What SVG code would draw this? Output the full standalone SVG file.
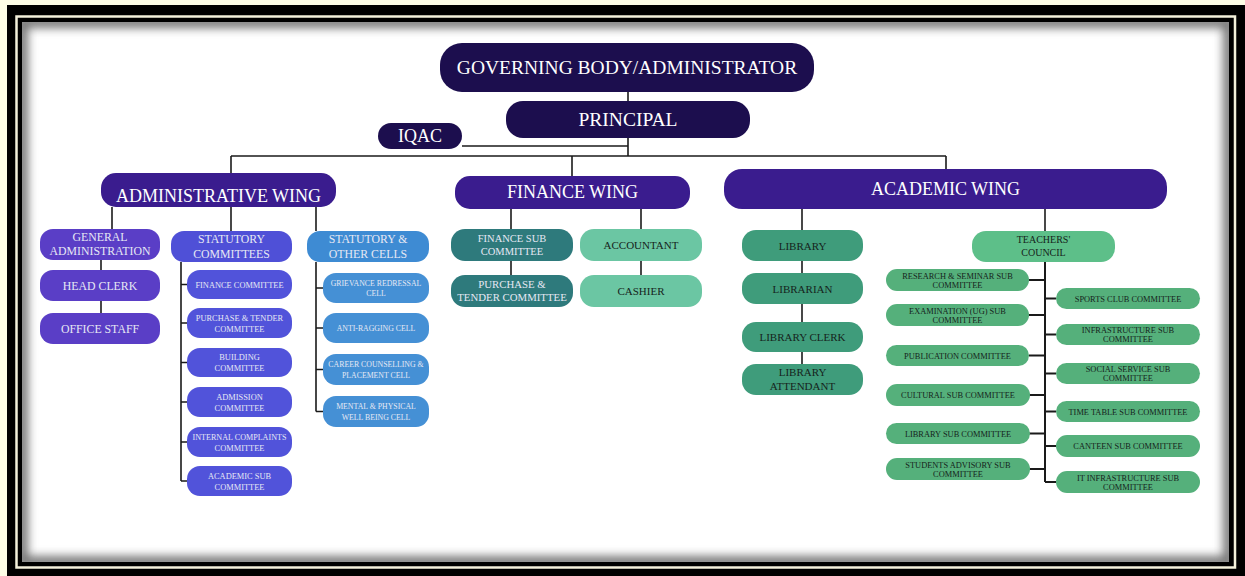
<svg xmlns="http://www.w3.org/2000/svg" width="1245" height="576" viewBox="0 0 1245 576">
<style>
text{font-family:"Liberation Serif","Times New Roman",serif;text-anchor:middle}
.w{fill:#ffffff}
.lt{fill:#e6e8f4}
.dk{fill:#16241b}
.navy{fill:#1c0e4e}
.wing{fill:#3a1c8e}
.ga{fill:#5a3ec6}
.sc{fill:#4f50d7}
.sci{fill:#5153da}
.oc{fill:#3e8bd3}
.oci{fill:#4590d5}
.fs{fill:#2e7a7c}
.ac{fill:#6bc6a3}
.lib{fill:#3f9c7b}
.tc{fill:#5dbf89}
.sub{fill:#55b07b}
.f18{font-size:18px}
.f12{font-size:11.8px}
.f11{font-size:11px}
.f105{font-size:10.5px}
.f10{font-size:10px}
.f85{font-size:8.4px}
.f8{font-size:7.8px}
.conn line,.conn path{stroke:#1a1a1a;stroke-width:1.6;fill:none}
.conn .thick{stroke-width:2}
</style>
<defs>
<filter id="blur" x="-5%" y="-5%" width="110%" height="110%"><feGaussianBlur stdDeviation="5"/></filter>
<clipPath id="inner"><rect x="22" y="22" width="1207" height="540"/></clipPath>
</defs>
<!-- frame -->
<rect width="1245" height="576" fill="#fdfde6"/>
<rect x="7" y="5" width="1238" height="571" fill="#000"/>
<rect x="16.5" y="16.5" width="1218.5" height="551" fill="none" stroke="#f4f1dc" stroke-width="2.5"/>
<rect x="22" y="22" width="1207" height="540" fill="#ffffff"/>
<g clip-path="url(#inner)">
<rect x="22" y="22" width="1207" height="540" fill="none" stroke="#777777" stroke-width="12" filter="url(#blur)"/>
</g>

<g class="conn" id="connectors">
<line x1="628" y1="92" x2="628" y2="101"/>
<line x1="628" y1="138" x2="628" y2="156"/>
<line x1="462" y1="146" x2="628" y2="146"/>
<line x1="231" y1="156" x2="946" y2="156"/>
<line x1="231" y1="156" x2="231" y2="173"/>
<line x1="572" y1="156" x2="572" y2="176"/>
<line x1="946" y1="156" x2="946" y2="169"/>
<!-- admin -->
<line x1="112" y1="207" x2="112" y2="229"/>
<line x1="231" y1="207" x2="231" y2="231"/>
<line x1="316" y1="207" x2="316" y2="231"/>
<line x1="101" y1="260" x2="101" y2="270"/>
<line x1="101" y1="301" x2="101" y2="313"/>
<path d="M181 262V481M181 284.5H187M181 323H187M181 362.5H187M181 402H187M181 442H187M181 481H187"/>
<path d="M316 262V411.5M316 288H323M316 328H323M316 369.5H323M316 411.5H323"/>
<!-- finance -->
<line x1="511" y1="209" x2="511" y2="229"/>
<line x1="641" y1="209" x2="641" y2="229"/>
<line x1="511" y1="261" x2="511" y2="275"/>
<line x1="641" y1="261" x2="641" y2="275"/>
<!-- academic -->
<line x1="802" y1="209" x2="802" y2="230"/>
<line x1="802" y1="261" x2="802" y2="273"/>
<line x1="802" y1="304" x2="802" y2="322"/>
<line x1="802" y1="352" x2="802" y2="364"/>
<line x1="1045" y1="209" x2="1045" y2="231"/>
<path class="thick" d="M1045 262V482M1029 280H1045M1029 315H1045M1029 355.5H1045M1029 395H1045M1029 433.5H1045M1029 469H1045M1045 298.5H1056M1045 334.5H1056M1045 373.5H1056M1045 411.5H1056M1045 446H1056M1045 482H1056"/>
</g>

<g id="governing"><rect class="navy" x="440" y="43" width="374" height="49" rx="22"/><text class="w" x="627" y="73.5" style="font-size:19.5px">GOVERNING BODY/ADMINISTRATOR</text></g>
<g id="principal"><rect class="navy" x="506" y="101" width="244" height="37" rx="17"/><text class="w" x="628" y="126" style="font-size:19.5px">PRINCIPAL</text></g>
<g id="iqac"><rect class="navy" x="378" y="123" width="84" height="26" rx="13"/><text class="w f18" x="420" y="142">IQAC</text></g>

<g id="admin-wing"><rect class="wing" x="101" y="173" width="235" height="34" rx="15"/><text class="w f18" x="218.5" y="202">ADMINISTRATIVE WING</text></g>
<g id="finance-wing"><rect class="wing" x="455" y="176" width="235" height="33" rx="15"/><text class="w f18" x="572.5" y="198">FINANCE WING</text></g>
<g id="academic-wing"><rect class="wing" x="724" y="169" width="443" height="40" rx="18"/><text class="w f18" x="945.5" y="195">ACADEMIC WING</text></g>

<g id="general-admin"><rect class="ga" x="40" y="229" width="120" height="31" rx="13"/><text class="lt f12" x="100" y="241">GENERAL</text><text class="lt f12" x="100" y="255">ADMINISTRATION</text></g>
<g id="head-clerk"><rect class="ga" x="40" y="270" width="120" height="31" rx="13"/><text class="lt f12" x="100" y="289.5">HEAD CLERK</text></g>
<g id="office-staff"><rect class="ga" x="40" y="313" width="120" height="31" rx="13"/><text class="lt f12" x="100" y="332.5">OFFICE STAFF</text></g>

<g id="statutory-committees"><rect class="sc" x="171" y="231" width="121" height="31" rx="13"/><text class="lt f12" x="231.5" y="243">STATUTORY</text><text class="lt f12" x="231.5" y="258">COMMITTEES</text></g>
<g id="finance-committee"><rect class="sci" x="187" y="270" width="105" height="29" rx="13"/><text class="lt f85" x="239.5" y="287.5">FINANCE COMMITTEE</text></g>
<g id="purchase-committee"><rect class="sci" x="187" y="308" width="105" height="30" rx="13"/><text class="lt f85" x="239.5" y="320.5">PURCHASE &amp; TENDER</text><text class="lt f85" x="239.5" y="331.5">COMMITTEE</text></g>
<g id="building-committee"><rect class="sci" x="187" y="348" width="105" height="29" rx="13"/><text class="lt f85" x="239.5" y="360">BUILDING</text><text class="lt f85" x="239.5" y="371">COMMITTEE</text></g>
<g id="admission-committee"><rect class="sci" x="187" y="387" width="105" height="30" rx="13"/><text class="lt f85" x="239.5" y="399.5">ADMISSION</text><text class="lt f85" x="239.5" y="410.5">COMMITTEE</text></g>
<g id="internal-complaints"><rect class="sci" x="187" y="427" width="105" height="30" rx="13"/><text class="lt f85" x="239.5" y="439.5" style="font-size:8.1px">INTERNAL COMPLAINTS</text><text class="lt f85" x="239.5" y="450.5">COMMITTEE</text></g>
<g id="academic-sub"><rect class="sci" x="187" y="466" width="105" height="30" rx="13"/><text class="lt f85" x="239.5" y="478.5">ACADEMIC SUB</text><text class="lt f85" x="239.5" y="489.5">COMMITTEE</text></g>

<g id="other-cells"><rect class="oc" x="307" y="231" width="122" height="31" rx="13"/><text class="lt f12" x="368" y="243">STATUTORY &amp;</text><text class="lt f12" x="368" y="257.5">OTHER CELLS</text></g>
<g id="grievance"><rect class="oci" x="323" y="273" width="106" height="30" rx="13"/><text class="lt f8" x="376" y="285.5">GRIEVANCE REDRESSAL</text><text class="lt f8" x="376" y="296">CELL</text></g>
<g id="anti-ragging"><rect class="oci" x="323" y="313" width="106" height="30" rx="13"/><text class="lt f8" x="376" y="331">ANTI-RAGGING CELL</text></g>
<g id="career"><rect class="oci" x="323" y="354" width="106" height="31" rx="13"/><text class="lt f8" x="376" y="367">CAREER COUNSELLING &amp;</text><text class="lt f8" x="376" y="377.5">PLACEMENT  CELL</text></g>
<g id="wellbeing"><rect class="oci" x="323" y="396" width="106" height="31" rx="13"/><text class="lt f8" x="376" y="409">MENTAL &amp; PHYSICAL</text><text class="lt f8" x="376" y="419.5">WELL BEING CELL</text></g>

<g id="finance-sub"><rect class="fs" x="451" y="229" width="122" height="32" rx="14"/><text class="lt f105" x="512" y="241.5">FINANCE SUB</text><text class="lt f105" x="512" y="254.5">COMMITTEE</text></g>
<g id="purchase-tender"><rect class="fs" x="451" y="275" width="122" height="32" rx="14"/><text class="lt" x="512" y="287.5" style="font-size:10.8px">PURCHASE &amp;</text><text class="lt" x="512" y="300.5" style="font-size:10.8px">TENDER COMMITTEE</text></g>
<g id="accountant"><rect class="ac" x="580" y="229" width="122" height="32" rx="14"/><text class="dk f11" x="641" y="249">ACCOUNTANT</text></g>
<g id="cashier"><rect class="ac" x="580" y="275" width="122" height="32" rx="14"/><text class="dk f11" x="641" y="295">CASHIER</text></g>

<g id="library"><rect class="lib" x="742" y="230" width="121" height="31" rx="14"/><text class="dk f11" x="802.5" y="249.5">LIBRARY</text></g>
<g id="librarian"><rect class="lib" x="742" y="273" width="121" height="31" rx="14"/><text class="dk f11" x="802.5" y="292.5">LIBRARIAN</text></g>
<g id="library-clerk"><rect class="lib" x="742" y="322" width="121" height="30" rx="14"/><text class="dk f11" x="802.5" y="341">LIBRARY CLERK</text></g>
<g id="library-attendant"><rect class="lib" x="742" y="364" width="121" height="31" rx="14"/><text class="dk f11" x="802.5" y="376">LIBRARY</text><text class="dk f11" x="802.5" y="389.5">ATTENDANT</text></g>

<g id="teachers-council"><rect class="tc" x="972" y="231" width="143" height="31" rx="14"/><text class="dk f10" x="1043.5" y="242.5">TEACHERS'</text><text class="dk f10" x="1043.5" y="255.5">COUNCIL</text></g>

<g id="research"><rect class="sub" x="886" y="269" width="143" height="22" rx="11"/><text class="dk f85" x="957.5" y="279">RESEARCH &amp; SEMINAR SUB</text><text class="dk f85" x="957.5" y="288">COMMITTEE</text></g>
<g id="examination"><rect class="sub" x="886" y="304" width="143" height="22" rx="11"/><text class="dk f85" x="957.5" y="314">EXAMINATION (UG) SUB</text><text class="dk f85" x="957.5" y="323">COMMITTEE</text></g>
<g id="publication"><rect class="sub" x="886" y="345" width="143" height="21" rx="10.5"/><text class="dk f85" x="957.5" y="358.5">PUBLICATION COMMITTEE</text></g>
<g id="cultural"><rect class="sub" x="886" y="384" width="144" height="22" rx="11"/><text class="dk f85" x="958" y="398">CULTURAL SUB COMMITTEE</text></g>
<g id="library-sub"><rect class="sub" x="886" y="423" width="144" height="21" rx="10.5"/><text class="dk f85" x="958" y="436.5">LIBRARY  SUB COMMITTEE</text></g>
<g id="students-advisory"><rect class="sub" x="886" y="458" width="144" height="22" rx="11"/><text class="dk f85" x="958" y="468">STUDENTS ADVISORY  SUB</text><text class="dk f85" x="958" y="477">COMMITTEE</text></g>

<g id="sports"><rect class="sub" x="1056" y="288" width="144" height="21" rx="10.5"/><text class="dk f85" x="1128" y="301.5">SPORTS CLUB COMMITTEE</text></g>
<g id="infrastructure"><rect class="sub" x="1056" y="324" width="144" height="21" rx="10.5"/><text class="dk f85" x="1128" y="333">INFRASTRUCTURE  SUB</text><text class="dk f85" x="1128" y="342">COMMITTEE</text></g>
<g id="social-service"><rect class="sub" x="1056" y="363" width="144" height="21" rx="10.5"/><text class="dk f85" x="1128" y="372">SOCIAL SERVICE SUB</text><text class="dk f85" x="1128" y="381">COMMITTEE</text></g>
<g id="time-table"><rect class="sub" x="1056" y="401" width="144" height="21" rx="10.5"/><text class="dk f85" x="1128" y="414.5">TIME TABLE SUB COMMITTEE</text></g>
<g id="canteen"><rect class="sub" x="1056" y="435" width="144" height="22" rx="11"/><text class="dk f85" x="1128" y="449">CANTEEN  SUB COMMITTEE</text></g>
<g id="it-infrastructure"><rect class="sub" x="1056" y="471" width="144" height="22" rx="11"/><text class="dk f85" x="1128" y="481">IT INFRASTRUCTURE SUB</text><text class="dk f85" x="1128" y="490">COMMITTEE</text></g>
</svg>
